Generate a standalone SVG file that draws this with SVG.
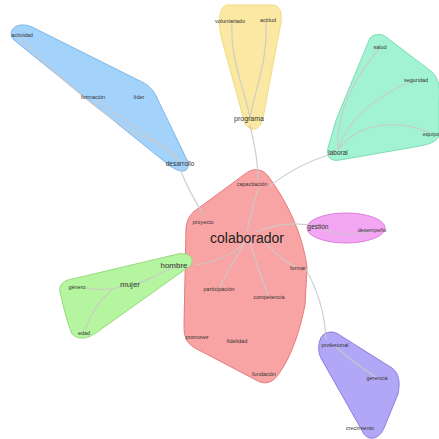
<svg xmlns="http://www.w3.org/2000/svg" width="439" height="439" viewBox="0 0 439 439">
<style>
.t{font-family:"Liberation Sans",Arial,sans-serif;fill:#333;font-size:5.5px;text-anchor:middle}
.m{font-size:8px}
.l{font-size:14px;fill:#222}
.e{fill:none;stroke:#cacaca;stroke-width:1.2;opacity:.9}
.h{stroke-width:1;stroke-linejoin:round}
</style>
<rect width="439" height="439" fill="#fff"/>
<g id="hulls">
<path id="hull-blue" class="h" d="M22,25 C12,25 8,34 14,40 L165,162 C176,172 190,176 188,162 L158,100 C153,88 147,84 138,80 L32,27 C28,25 25,25 22,25 Z" fill="#a3d2fb" stroke="#7fb6ea"/>
<path id="hull-yellow" class="h" d="M228,5 L272,5 C280,5 282,12 281,22 L263,118 C260,130 252,133 245,124 L222,40 C218,25 218,5 228,5 Z" fill="#fbe9a3" stroke="#f0dc80"/>
<path id="hull-teal" class="h" d="M370,38 C376,32 384,34 390,40 L432,72 C440,80 440,90 439,100 L439,136 C436,142 430,144 420,146 L340,160 C330,162 326,156 328,148 L336,120 Z" fill="#a2f3d3" stroke="#7edcb4"/>
<path id="hull-red" class="h" d="M245,174 C252,168 262,168 268,176 C290,205 304,240 307,268 L305,305 C300,330 292,355 280,372 C274,382 266,386 256,380 L195,348 C186,343 184,336 184,326 L186,228 C187,220 190,214 196,210 Z" fill="#f9a4a4" stroke="#e67a7a"/>
<ellipse id="hull-pink" class="h" cx="346" cy="228" rx="39" ry="15" fill="#f3a6f1" stroke="#de78de"/>
<path id="hull-green" class="h" d="M68,280 L178,254 C188,252 196,258 190,266 L100,330 C88,340 78,340 72,334 C66,320 62,300 60,292 C59,286 62,282 68,280 Z" fill="#b6f59f" stroke="#98da7e"/>
<path id="hull-purple" class="h" d="M320,340 C322,332 332,330 338,334 L392,368 C400,374 400,384 398,394 L384,428 C380,438 370,442 364,434 L322,360 C318,354 318,346 320,340 Z" fill="#b2a7f6" stroke="#8a7fde"/>
</g>
<g id="connectors">
<path class="e" d="M180,168 C185,185 195,200 203,214"/>
<path class="e" d="M250,125 C255,145 258,162 258,180"/>
<path class="e" d="M270,186 C290,170 310,160 335,153"/>
<path class="e" d="M258,188 C252,210 248,225 247,232"/>
<path class="e" d="M247,240 C235,255 215,262 195,265"/>
<path class="e" d="M180,265 C165,270 150,280 135,284" stroke="#b0b0b0" stroke-width="3"/>
<path class="e" d="M125,286 C110,290 95,290 85,288"/>
<path class="e" d="M112,290 C100,300 90,315 85,330"/>
<path class="e" d="M18,36 C60,80 120,130 150,140 C165,146 175,155 180,162"/>
<path class="e" d="M95,98 C130,125 165,145 180,162"/>
<path class="e" d="M250,118 C245,90 230,60 232,24"/>
<path class="e" d="M250,118 C255,90 268,60 266,22"/>
<path class="e" d="M338,150 C335,110 360,70 380,48"/>
<path class="e" d="M338,150 C350,110 390,90 415,80"/>
<path class="e" d="M338,150 C360,120 400,120 430,133"/>
<path class="e" d="M320,228 C340,236 355,236 372,230"/>
<path class="e" d="M255,232 C280,222 300,222 318,227"/>
<path class="e" d="M262,238 C275,255 290,265 298,268"/>
<path class="e" d="M250,242 C255,260 262,280 268,295"/>
<path class="e" d="M245,242 C235,260 225,275 220,287"/>
<path class="e" d="M305,268 C318,290 325,315 326,340"/>
<path class="e" d="M335,346 C350,360 365,370 376,377"/>
</g>
<g id="labels">
<g id="n-actividad"><text class="t" x="22" y="37">actividad</text></g>
<g id="n-formacion"><text class="t" x="93" y="99">formación</text></g>
<g id="n-lider"><text class="t" x="139" y="99">líder</text></g>
<g id="n-desarrollo"><text class="t" x="180" y="166" style="font-size:6.5px">desarrollo</text></g>
<g id="n-voluntariado"><text class="t" x="230" y="23">voluntariado</text></g>
<g id="n-actitud"><text class="t" x="268" y="22">actitud</text></g>
<g id="n-programa"><text class="t" x="249" y="121" style="font-size:7px">programa</text></g>
<g id="n-salud"><text class="t" x="380" y="49">salud</text></g>
<g id="n-seguridad"><text class="t" x="416" y="82">seguridad</text></g>
<g id="n-equipo"><text class="t" x="431" y="136">equipo</text></g>
<g id="n-laboral"><text class="t" x="338" y="155" style="font-size:6.5px">laboral</text></g>
<g id="n-capacitacion"><text class="t" x="252" y="186">capacitación</text></g>
<g id="n-proyecto"><text class="t" x="203" y="224">proyecto</text></g>
<g id="n-colaborador"><text class="t l" x="247" y="243">colaborador</text></g>
<g id="n-gestion"><text class="t" x="318" y="229" style="font-size:6.5px">gestión</text></g>
<g id="n-desempeno"><text class="t" x="372" y="232">desempeño</text></g>
<g id="n-hombre"><text class="t m" x="174" y="268">hombre</text></g>
<g id="n-mujer"><text class="t m" x="130" y="287">mujer</text></g>
<g id="n-genero"><text class="t" x="77" y="289">género</text></g>
<g id="n-edad"><text class="t" x="84" y="335">edad</text></g>
<g id="n-formar"><text class="t" x="298" y="270">formar</text></g>
<g id="n-participacion"><text class="t" x="219" y="291">participación</text></g>
<g id="n-competencia"><text class="t" x="269" y="299">competencia</text></g>
<g id="n-promover"><text class="t" x="197" y="339">promover</text></g>
<g id="n-fidelidad"><text class="t" x="237" y="343">fidelidad</text></g>
<g id="n-fundacion"><text class="t" x="264" y="376">fundación</text></g>
<g id="n-profesional"><text class="t" x="335" y="347">profesional</text></g>
<g id="n-gerencia"><text class="t" x="377" y="380">gerencia</text></g>
<g id="n-crecimiento"><text class="t" x="360" y="430">crecimiento</text></g>
</g>
</svg>
